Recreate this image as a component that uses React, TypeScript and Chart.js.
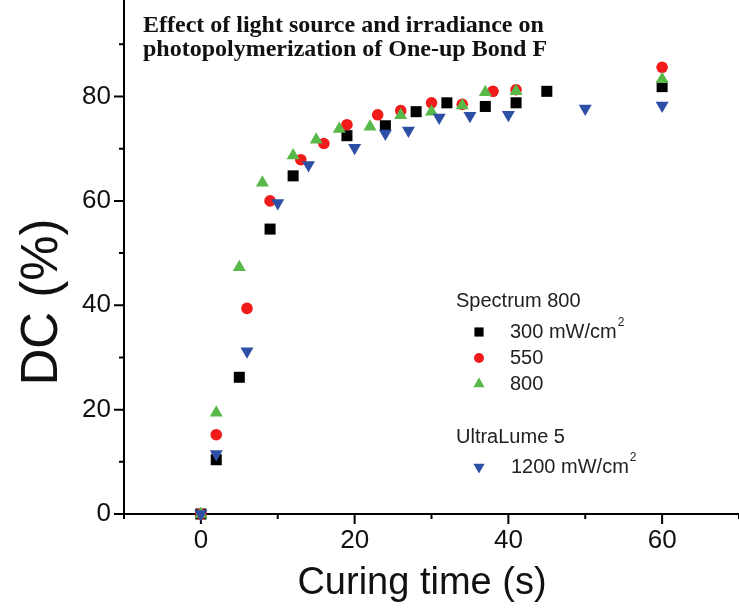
import React, { useEffect, useRef } from 'react';
import { Chart, registerables } from 'chart.js';

Chart.register(...registerables);

// ---- data ----
const times300 = [0, 2, 5, 9, 12, 19, 24, 28, 32, 37, 41, 45, 60];
const dc300 = [0, 10.4, 26.2, 54.6, 64.8, 72.5, 74.4, 77.1, 78.8, 78.1, 78.8, 81, 81.9];

const times550 = [0, 2, 6, 9, 13, 16, 19, 23, 26, 30, 34, 38, 41, 60];
const dc550 = [0, 15.2, 39.4, 60, 67.9, 71, 74.6, 76.5, 77.3, 78.8, 78.5, 81, 81.3, 85.6];

const times800 = [0, 2, 5, 8, 12, 15, 18, 22, 26, 30, 34, 37, 41, 60];
const dc800 = [0, 19.4, 47.3, 63.5, 68.7, 71.7, 73.8, 74.2, 76.4, 77.1, 78.3, 80.8, 81, 83.3];

const times1200 = [0, 2, 6, 10, 14, 20, 24, 27, 31, 35, 40, 50, 60];
const dc1200 = [0, 11.5, 31.2, 59.6, 66.9, 70.2, 72.9, 73.5, 76, 76.3, 76.5, 77.7, 78.3];

const xMajorTicks = [0, 20, 40, 60];
const xMinorTicks = [-10, 10, 30, 50, 70];
const yMajorTicks = [0, 20, 40, 60, 80];
const yMinorTicks = [10, 30, 50, 70, 90];

const titleLines = ['Effect of light source and irradiance on', 'photopolymerization of One-up Bond F'];
const xTitle = 'Curing time (s)';
const yTitle = 'DC (%)';

const BLACK = '#000000';
const RED = '#f21b1b';
const GREEN = '#58b848';
const BLUE = '#2e4fa6';

const toPoints = (xs: number[], ys: number[]) => xs.map((x, i) => ({ x, y: ys[i] }));

function drawMarker(ctx: CanvasRenderingContext2D, style: string, x: number, y: number, r: number, color: string) {
  ctx.save();
  ctx.fillStyle = color;
  ctx.beginPath();
  if (style === 'rect') {
    const s = r * Math.SQRT1_2;
    ctx.rect(x - s, y - s, 2 * s, 2 * s);
  } else if (style === 'circle') {
    ctx.arc(x, y, r, 0, Math.PI * 2);
  } else if (style === 'triangle') {
    ctx.moveTo(x, y - r);
    ctx.lineTo(x + r * Math.sin((2 * Math.PI) / 3), y - r * Math.cos((2 * Math.PI) / 3));
    ctx.lineTo(x + r * Math.sin((4 * Math.PI) / 3), y - r * Math.cos((4 * Math.PI) / 3));
    ctx.closePath();
  } else if (style === 'down') {
    ctx.moveTo(x, y + r);
    ctx.lineTo(x + r * Math.sin((2 * Math.PI) / 3), y + r * Math.cos((2 * Math.PI) / 3));
    ctx.lineTo(x + r * Math.sin((4 * Math.PI) / 3), y + r * Math.cos((4 * Math.PI) / 3));
    ctx.closePath();
  }
  ctx.fill();
  ctx.restore();
}

const axesPlugin = {
  id: 'customAxes',
  beforeDatasetsDraw(chart: any) {
    const { ctx, chartArea } = chart;
    const xs = chart.scales.x;
    const ys = chart.scales.y;
    const left = chartArea.left;
    const bottom = chartArea.bottom;
    ctx.save();
    ctx.strokeStyle = '#000';
    ctx.lineWidth = 2;
    ctx.beginPath();
    ctx.moveTo(left, 0);
    ctx.lineTo(left, bottom + 1);
    ctx.moveTo(left - 1, bottom);
    ctx.lineTo(chart.width, bottom);
    yMajorTicks.forEach((v) => {
      const p = ys.getPixelForValue(v);
      ctx.moveTo(left, p);
      ctx.lineTo(left - 10, p);
    });
    yMinorTicks.forEach((v) => {
      const p = ys.getPixelForValue(v);
      ctx.moveTo(left, p);
      ctx.lineTo(left - 5, p);
    });
    xMajorTicks.forEach((v) => {
      const p = xs.getPixelForValue(v);
      ctx.moveTo(p, bottom);
      ctx.lineTo(p, bottom + 10);
    });
    xMinorTicks.forEach((v) => {
      const p = xs.getPixelForValue(v);
      ctx.moveTo(p, bottom);
      ctx.lineTo(p, bottom + 5);
    });
    ctx.stroke();
    ctx.restore();
  },
  afterDraw(chart: any) {
    const { ctx } = chart;
    ctx.save();
    ctx.fillStyle = '#111';
    // title
    ctx.font = 'bold 24px "Liberation Serif"';
    ctx.textAlign = 'left';
    ctx.textBaseline = 'alphabetic';
    ctx.fillText(titleLines[0], 143, 32);
    ctx.fillText(titleLines[1], 143, 56);

    // axis titles
    ctx.font = '38px "Liberation Sans"';
    ctx.textAlign = 'center';
    ctx.fillText(xTitle, 422, 594);
    ctx.save();
    ctx.translate(57, 302);
    ctx.rotate(-Math.PI / 2);
    ctx.font = '51px "Liberation Sans"';
    ctx.textBaseline = 'alphabetic';
    ctx.fillText(yTitle, 0, 0);
    ctx.restore();

    // legend
    ctx.font = '20px "Liberation Sans"';
    ctx.textAlign = 'left';
    ctx.textBaseline = 'middle';
    ctx.fillStyle = '#222';
    ctx.fillText('Spectrum 800', 456, 301);
    const rows: [string, string, string, number, boolean][] = [
      ['rect', BLACK, '300 mW/cm', 332, true],
      ['circle', RED, '550', 358, false],
      ['triangle', GREEN, '800', 384, false],
    ];
    rows.forEach(([st, col, txt, yy, sup]) => {
      drawMarker(ctx, st, 479, yy, st === 'circle' ? 5 : 6.5, col);
      ctx.fillStyle = '#222';
      ctx.font = '20px "Liberation Sans"';
      ctx.fillText(txt, 510, yy);
      if (sup) {
        const w = ctx.measureText(txt).width;
        ctx.font = '12px "Liberation Sans"';
        ctx.fillText('2', 510 + w + 1, yy - 9);
      }
    });
    ctx.font = '20px "Liberation Sans"';
    ctx.fillStyle = '#222';
    ctx.fillText('UltraLume 5', 456, 437);
    drawMarker(ctx, 'down', 479, 467, 6.5, BLUE);
    ctx.fillStyle = '#222';
    ctx.fillText('1200 mW/cm', 511, 467);
    const w2 = ctx.measureText('1200 mW/cm').width;
    ctx.font = '12px "Liberation Sans"';
    ctx.fillText('2', 511 + w2 + 1, 458);
    ctx.restore();
  },
};

export default function App() {
  const ref = useRef<HTMLCanvasElement | null>(null);
  useEffect(() => {
    if (!ref.current) return;
    const chart = new Chart(ref.current, {
      type: 'scatter',
      data: {
        datasets: [
          {
            label: '300 mW/cm²',
            data: toPoints(times300, dc300),
            pointStyle: 'rect',
            pointRadius: 7.8,
            backgroundColor: BLACK,
            borderColor: BLACK,
            borderWidth: 0,
            order: 3,
            clip: false,
          },
          {
            label: '550',
            data: toPoints(times550, dc550),
            pointStyle: 'circle',
            pointRadius: 5.8,
            backgroundColor: RED,
            borderColor: RED,
            borderWidth: 0,
            order: 2,
            clip: false,
          },
          {
            label: '800',
            data: toPoints(times800, dc800),
            pointStyle: 'triangle',
            pointRadius: 7.5,
            backgroundColor: GREEN,
            borderColor: GREEN,
            borderWidth: 0,
            order: 1,
            clip: false,
          },
          {
            label: '1200 mW/cm²',
            data: toPoints(times1200, dc1200),
            pointStyle: 'triangle',
            rotation: 180,
            pointRadius: 7.5,
            backgroundColor: BLUE,
            borderColor: BLUE,
            borderWidth: 0,
            order: 0,
            clip: false,
          },
        ] as any,
      },
      options: {
        animation: false,
        responsive: false,
        maintainAspectRatio: false,
        layout: { padding: 0, autoPadding: false },
        plugins: {
          legend: { display: false },
          title: { display: false },
          tooltip: { enabled: false },
        },
        scales: {
          x: {
            type: 'linear',
            min: -10,
            max: 70,
            grid: { display: false, drawTicks: false },
            border: { display: false },
            afterFit: (s: any) => {
              s.height = 98;
              s.paddingLeft = 0;
              s.paddingRight = 0;
            },
            ticks: {
              stepSize: 10,
              autoSkip: false,
              maxRotation: 0,
              padding: 11,
              color: '#111',
              font: { family: 'Liberation Sans', size: 26 },
              callback: (v: any) => (xMajorTicks.includes(Number(v)) ? String(v) : null),
            },
          },
          y: {
            type: 'linear',
            min: 0,
            max: 98.5,
            grid: { display: false, drawTicks: false },
            border: { display: false },
            afterFit: (s: any) => {
              s.width = 124;
              s.paddingTop = 0;
              s.paddingBottom = 0;
            },
            ticks: {
              stepSize: 10,
              autoSkip: false,
              padding: 13,
              color: '#111',
              font: { family: 'Liberation Sans', size: 26 },
              callback: (v: any) => (yMajorTicks.includes(Number(v)) ? String(v) : null),
            },
          },
        },
      } as any,
      plugins: [axesPlugin],
    });
    return () => chart.destroy();
  }, []);
  return (
    <div style={{ position: 'absolute', left: 0, top: 0, width: 739, height: 612, background: '#fff' }}>
      <canvas ref={ref} width={739} height={612} />
    </div>
  );
}
